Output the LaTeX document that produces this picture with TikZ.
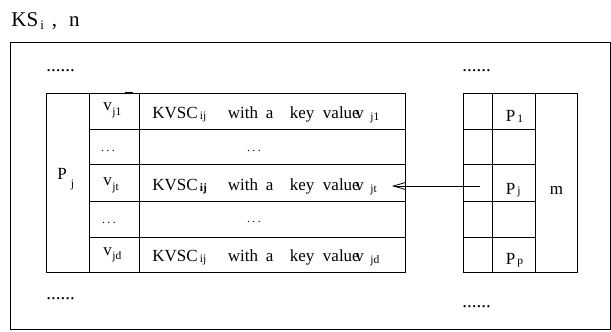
\documentclass[tikz,border=0pt]{standalone}
\usepackage{fontspec}
\setmainfont{Liberation Serif}
\usetikzlibrary{arrows.meta}
\newcommand\mydots{.\kern2.5pt.\kern2.5pt.}
\begin{document}
\begin{tikzpicture}[x=1pt,y=-1pt,line width=0.9pt,
  txt/.style={inner sep=0pt,anchor=base west,font=\fontsize{17}{17}\selectfont},
  subt/.style={inner sep=0pt,anchor=base west,font=\fontsize{11.5}{11.5}\selectfont},
  dotsl/.style={inner sep=0pt,anchor=base west,font=\fontsize{19}{19}\selectfont},
  dotss/.style={inner sep=0pt,anchor=base,font=\fontsize{12}{12}\selectfont},
  tbl/.style={draw=black,line width=0.9pt}]
\useasboundingbox (0,0) rectangle (611,332);
% title
\node[inner sep=0pt,anchor=base west,font=\fontsize{21}{21}\selectfont] (title) at (11,26)
  {KS\hspace{2pt}\raisebox{-4pt}{\fontsize{13}{13}\selectfont i}\hspace{8pt},\hspace{12pt}n};
% outer frame
\draw[tbl] (10.5,42.5) rectangle (610,329.5);
% dots
\node[dotsl] (dtl) at (46,71) {......};
\node[dotsl] (dtr) at (462,71) {......};
\node[dotsl] (dbl) at (46,299) {......};
\node[dotsl] (dbr) at (462,307) {......};
% left table
\draw[tbl] (46,93) rectangle (405,272);
\draw[tbl] (89,93) -- (89,272);
\draw[tbl] (139,93) -- (139,272);
\foreach \yy in {129,164,201,237} \draw[tbl] (89,\yy) -- (405,\yy);
\draw[line width=2pt] (125,93) -- (133,93);
% right table
\draw[tbl] (463,93) rectangle (577,272);
\draw[tbl] (492,93) -- (492,272);
\draw[tbl] (535,93) -- (535,272);
\foreach \yy in {129,164,201,237} \draw[tbl] (463,\yy) -- (535,\yy);
% P_j left
\node[txt] (pjl) at (57,179) {P};
\node[subt] (pjlsub) at (70.5,187) {j};
% v column
\node[txt] (v1) at (103,110) {v};
\node[subt] (v1s) at (112,115) {j1};
\node[dotss] (vd2) at (108,151) {\mydots};
\node[txt] (vt) at (103,185) {v};
\node[subt] (vts) at (112,190) {jt};
\node[dotss] (vd4) at (109,223) {\mydots};
\node[txt] (vd) at (103,255) {v};
\node[subt] (vds) at (112,259.5) {jd};
% KVSC column
\newcommand\kvrow[4]{%
  \node[txt] (k#1) at (152,#2) {KVSC};
  \node[subt] (k#1s) at (199.5,#2+1) {#4};
  \node[txt] (wa#1) at (227.5,#2) {with};
  \node[txt] (wb#1) at (265.5,#2) {a};
  \node[txt] (wc#1) at (289.5,#2) {key};
  \node[txt] (wd#1) at (322.5,#2) {value};
  \node[txt] (kv#1) at (355,#2) {v};
  \node[subt] (kv#1s) at (370,#2+2) {#3};
}
\kvrow{a}{118.5}{j1}{ij}
\node[dotss] (kd2) at (254,151) {\mydots};
\kvrow{b}{190.5}{jt}{\textbf{ij}}
\node[dotss] (kd4) at (254,222) {\mydots};
\kvrow{c}{261.5}{jd}{ij}
% right table texts
\node[txt] (p1) at (505.5,121.5) {P};
\node[subt] (p1s) at (517,122) {1};
\node[txt] (pj) at (505.5,194) {P};
\node[subt] (pjs) at (517,194.5) {j};
\node[txt] (pp) at (505.5,264) {P};
\node[subt] (pps) at (517,264.5) {p};
\node[txt] (m) at (549.5,194) {m};
% arrow
\coordinate (src) at (480,186);
\coordinate (dst) at (392,186);
\draw[line width=0.8pt,-{Straight Barb[length=12pt,width=7pt]}] (src) -- (dst);
\end{tikzpicture}
\end{document}
